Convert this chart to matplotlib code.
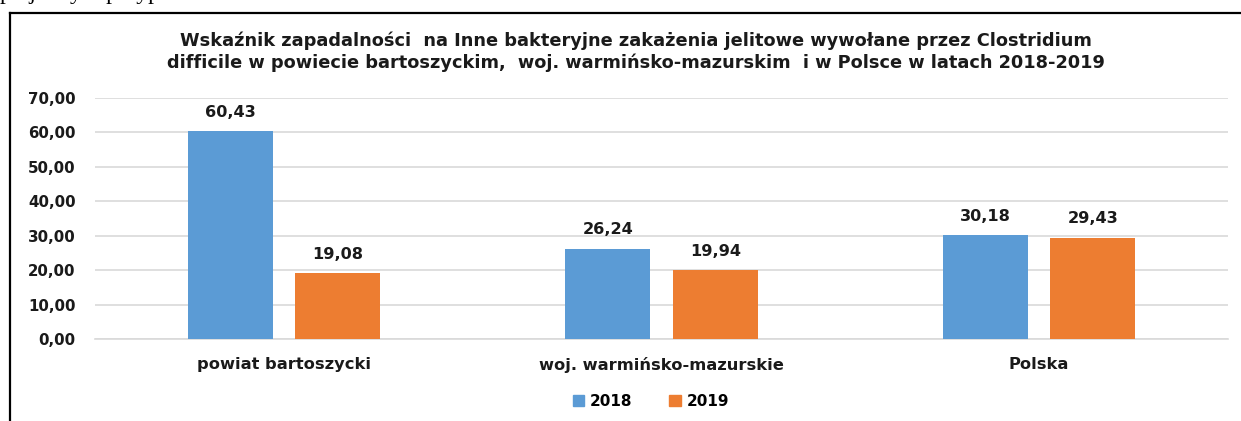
import numpy as np
import matplotlib.pyplot as plt
from matplotlib.lines import Line2D
from matplotlib.patches import Patch

# data
categories = ['powiat bartoszycki', 'woj. warmińsko-mazurskie', 'Polska']
years = ['2018', '2019']
values_2018 = [60.43, 26.24, 30.18]
values_2019 = [19.08, 19.94, 29.43]
yticks = [0, 10, 20, 30, 40, 50, 60, 70]

title = ('Wskaźnik zapadalności  na Inne bakteryjne zakażenia jelitowe wywołane przez Clostridium\n'
         'difficile w powiecie bartoszyckim,  woj. warmińsko-mazurskim  i w Polsce w latach 2018-2019')

blue = '#5B9BD5'
orange = '#ED7D31'
txt = '#1a1a1a'
font = 'DejaVu Sans'

def fmt(v):
    return f'{v:.2f}'.replace('.', ',')

W, H = 1241, 421
fig = plt.figure(figsize=(W / 100, H / 100), dpi=100)
fig.patch.set_facecolor('white')

# line of document text above the chart, cut by the page crop
fig.text(0.0, 1 + 1 / H, 'po jednym przypadku zachorowania.', family='Liberation Serif',
         fontsize=17, va='baseline', ha='left', color='black')

# frame around the chart
fig.add_artist(Line2D([10 / W, 10 / W], [0, 1 - 13 / H], color='black', lw=1.6))
fig.add_artist(Line2D([10 / W, 1], [1 - 13 / H, 1 - 13 / H], color='black', lw=1.6))

ax = fig.add_axes([95 / W, 1 - 339 / H, (1228 - 95) / W, (339 - 98) / H])

x = np.arange(len(categories))
bw = 0.225
off = 0.1425
b1 = ax.bar(x - off, values_2018, bw, color=blue, label=years[0], zorder=3)
b2 = ax.bar(x + off, values_2019, bw, color=orange, label=years[1], zorder=3)

for bars, vals in ((b1, values_2018), (b2, values_2019)):
    for r, v in zip(bars, vals):
        ax.annotate(fmt(v), (r.get_x() + r.get_width() / 2, v), xytext=(0, 13.5),
                    textcoords='offset points', ha='center', va='center',
                    fontsize=11.6, fontweight='bold', family=font, color=txt)

ax.set_xlim(-0.5, len(categories) - 0.5)
ax.set_ylim(0, 70)
ax.set_yticks(yticks)
ax.set_yticklabels([fmt(t) for t in yticks])
ax.set_xticks(x)
ax.set_xticklabels(categories)
ax.yaxis.grid(True, color='#D9D9D9', lw=1.2, zorder=0)
ax.set_axisbelow(True)
for s in ('top', 'right', 'left'):
    ax.spines[s].set_visible(False)
ax.spines['bottom'].set_color('#D9D9D9')
ax.spines['bottom'].set_linewidth(1.2)
ax.tick_params(axis='both', length=0)
ax.tick_params(axis='y', pad=14)
ax.tick_params(axis='x', pad=13)
for lab in ax.get_yticklabels():
    lab.set_fontsize(10.8)
for lab in ax.get_xticklabels():
    lab.set_fontsize(11.7)
for lab in ax.get_yticklabels() + ax.get_xticklabels():
    lab.set_fontweight('bold')
    lab.set_family(font)
    lab.set_color(txt)

fig.text(636 / W, 1 - 52 / H, title, ha='center', va='center', fontsize=12.8,
         fontweight='bold', family=font, color=txt, linespacing=1.25)

handles = [Patch(color=blue), Patch(color=orange)]
fig.legend(handles, years, loc='center', bbox_to_anchor=(651 / W, 1 - 401 / H), ncol=2,
           frameon=False, prop={'family': font, 'weight': 'bold', 'size': 11},
           handlelength=0.75, handleheight=0.75, handletextpad=0.4, columnspacing=2.4)

fig.savefig('out.png', dpi=100, facecolor='white')
